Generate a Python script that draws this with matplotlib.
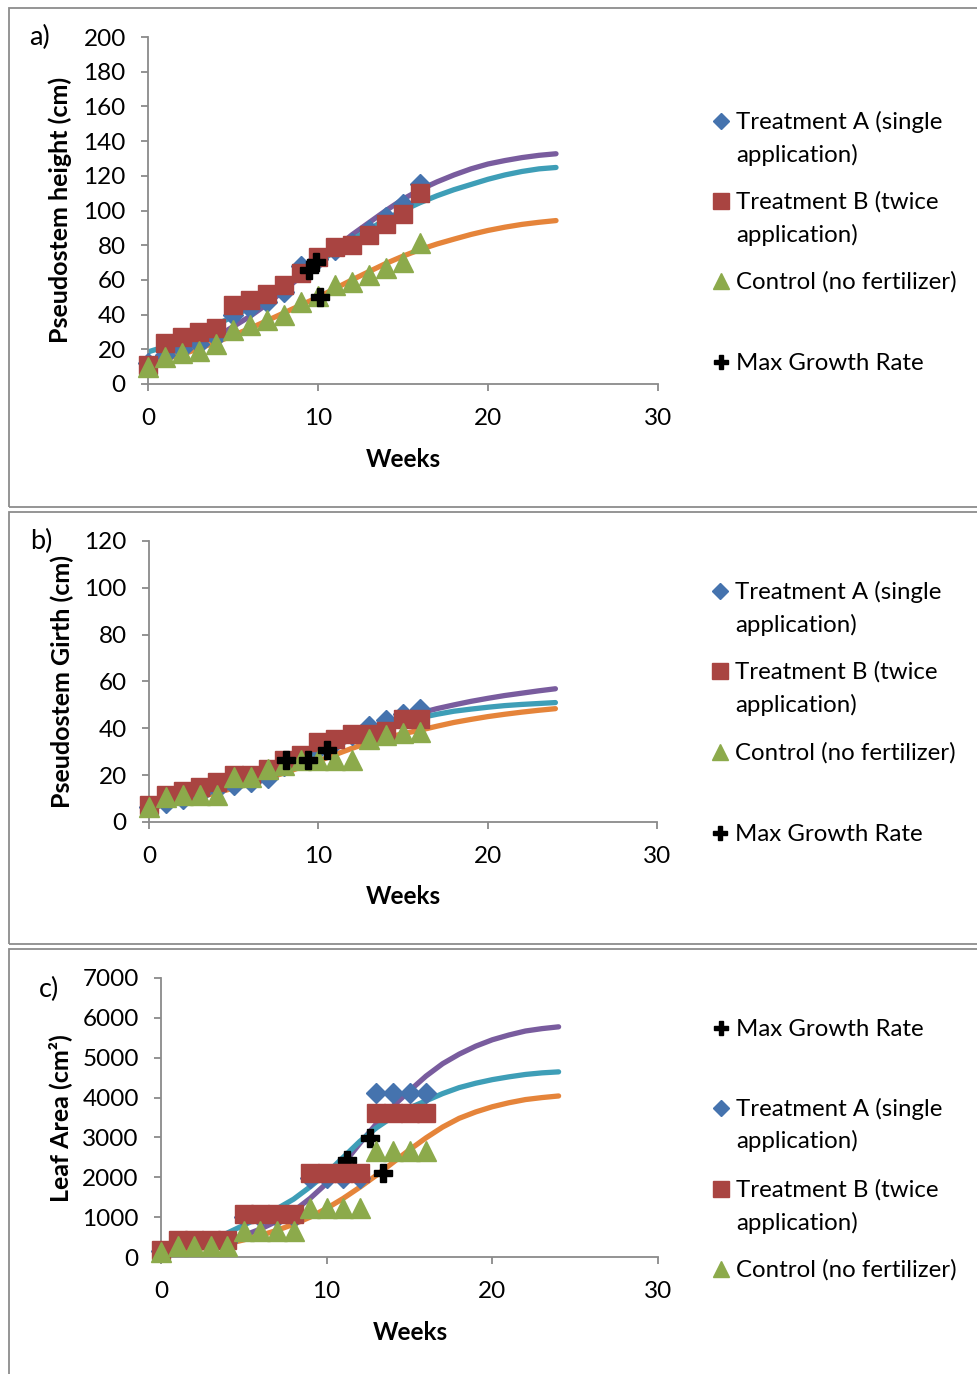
import matplotlib
matplotlib.use("Agg")
import matplotlib.pyplot as plt
from matplotlib.lines import Line2D
from matplotlib.patches import Rectangle

plt.rcParams['font.family'] = ['Lato', 'DejaVu Sans']

W, H = 977, 1374

# ---------------- data ----------------
weeks = [0, 1, 2, 3, 4, 5, 6, 7, 8, 9, 10, 11, 12, 13, 14, 15, 16]
fit_weeks = [0, 1, 2, 3, 4, 5, 6, 7, 8, 9, 10, 11, 12, 13, 14, 15, 16,
             17, 18, 19, 20, 21, 22, 23, 24]

# a) pseudostem height (cm)
a_treat_a = [12, 17, 20, 23, 27, 40, 44, 47, 53, 68, 72, 77, 81, 89, 96, 104, 115]
a_treat_b = [11, 23.5, 27, 30, 32.5, 45.6, 48.5, 52, 57, 64, 73, 79, 80, 86, 92, 98, 110]
a_control = [10, 15.4, 17.7, 19, 23, 31, 34, 37, 40, 47.5, 51, 57, 59, 63, 67, 70.6, 81]
a_fit_a = [13, 15, 18, 22, 27, 33, 39, 46, 54, 62, 70, 78, 86, 93, 100, 106.5, 112,
           116.5, 120.5, 124, 126.8, 128.8, 130.5, 131.8, 132.7]
a_fit_b = [18.5, 21.5, 25, 29.5, 34, 39, 44, 50.5, 57, 63.5, 70, 76.5, 83, 89, 95, 100,
           104.5, 108.5, 112, 115, 118, 120.5, 122.5, 124, 124.8]
a_fit_c = [12, 14.5, 17, 20.5, 24, 28, 32, 36.5, 41, 45.5, 50, 55, 60, 64.8, 69.5, 73.7,
           77.5, 80.7, 83.5, 86.2, 88.5, 90.4, 92, 93.2, 94.2]
a_max_x = [9.47, 9.9, 10.1]
a_max_y = [65.5, 70.5, 50]

# b) pseudostem girth (cm)
b_treat_a = [6.5, 8, 10, 12, 14, 16, 17, 19, 24, 27, 31, 34, 37, 41, 43.5, 46, 48.4]
b_treat_b = [7.1, 11.4, 13.1, 15, 17, 20, 20, 22.8, 26.3, 28.5, 34.2, 35.3, 37.4, 37.7, 39, 44, 44]
b_control = [6.4, 10.7, 11.4, 11.4, 11.4, 19.2, 19.2, 22.8, 24.5, 26.3, 26.6, 26.3, 26.6, 35.6, 37, 38, 38.4]
b_fit_a = [6, 7.7, 9.5, 11.5, 13.5, 15.7, 18, 20.7, 23.5, 26.5, 29.5, 32.5, 35.5, 38.3, 41,
           44, 46.5, 48.4, 50, 51.5, 52.8, 54, 55, 56, 56.9]
b_fit_b = [7, 9, 11, 13, 15, 17.2, 19.5, 22.2, 25, 27.5, 30, 32.8, 35.5, 38, 40.5, 42.7,
           44.5, 46, 47.3, 48.2, 49, 49.7, 50.2, 50.6, 51]
b_fit_c = [6, 7.5, 9, 10.7, 12.5, 14.5, 16.5, 18.7, 21, 23.5, 26, 28.8, 31.5, 33.9, 36,
           37.7, 39.2, 40.9, 42.5, 43.8, 45, 46, 46.9, 47.7, 48.4]
b_max_x = [8.12, 9.4, 10.5]
b_max_y = [26.6, 26.6, 30.8]

# c) leaf area (cm2)
c_treat_a = [150, 380, 380, 380, 380, 1000, 1000, 1000, 1000, 1970, 1970, 1970, 1970, 4110, 4110, 4110, 4110]
c_treat_b = [167, 418, 418, 418, 418, 1078, 1078, 1078, 1078, 2100, 2100, 2100, 2100, 3605, 3605, 3605, 3605]
c_control = [130, 270, 270, 270, 270, 640, 640, 640, 640, 1240, 1240, 1240, 1240, 2670, 2670, 2670, 2670]
c_fit_a = [150, 200, 260, 330, 420, 540, 700, 900, 1150, 1470, 1850, 2330, 2850, 3340, 3780,
           4170, 4540, 4850, 5090, 5290, 5450, 5570, 5670, 5730, 5775]
c_fit_b = [150, 200, 280, 420, 600, 800, 1000, 1210, 1450, 1760, 2100, 2500, 2900, 3240, 3520,
           3740, 3920, 4100, 4250, 4360, 4450, 4520, 4580, 4620, 4645]
c_fit_c = [120, 160, 200, 260, 330, 430, 540, 670, 820, 1000, 1220, 1470, 1750, 2050, 2370,
           2690, 2990, 3260, 3480, 3640, 3770, 3870, 3950, 4000, 4040]
c_max_x = [11.21, 12.61, 13.42]
c_max_y = [2433, 2977, 2099]

x_ticks = [0, 10, 20, 30]
lab_a = "Treatment A (single"
lab_a2 = "application)"
lab_b = "Treatment B (twice"
lab_b2 = "application)"
lab_c = "Control (no fertilizer)"
lab_m = "Max Growth Rate"

# ---------------- style ----------------
COL_A = '#4573AE'
COL_B = '#A94441'
COL_C = '#8CAA4B'
FIT_A = '#795C9E'
FIT_B = '#3E9EB7'
FIT_C = '#E5843A'
AX_COL = '#8A8A8A'

TICK_FS = 17.5
LEG_FS = 17.3
LAB_FS = 18
WK_FS = 17.5

fig = plt.figure(figsize=(W / 100, H / 100), dpi=100)


def fx(px):
    return px / W


def fy(py):
    return 1 - py / H


# panel borders
for top, bottom in [(8, 507), (512, 944), (949, 1380)]:
    fig.add_artist(Rectangle((fx(8.5), fy(bottom)), fx(1000), (bottom - top) / H,
                             transform=fig.transFigure, fill=False,
                             edgecolor='#8C8C8C', linewidth=1.3))


def panel(l, r, t, b, ymax, ystep, A, B, C, fA, fB, fC, mx, my, cross_top):
    ax = fig.add_axes([fx(l), fy(b), fx(r) - fx(l), (b - t) / H])
    ax.plot(fit_weeks, fA, color=FIT_A, lw=3.8, solid_capstyle='round', zorder=2)
    ax.plot(fit_weeks, fB, color=FIT_B, lw=3.8, solid_capstyle='round', zorder=2)
    ax.plot(fit_weeks, fC, color=FIT_C, lw=3.8, solid_capstyle='round', zorder=2)
    ax.plot(weeks, A, ls='none', marker='D', ms=10, color=COL_A, mec=COL_A,
            clip_on=False, zorder=3)
    ax.plot(weeks, B, ls='none', marker='s', ms=13.5, color=COL_B, mec=COL_B,
            clip_on=False, zorder=4)
    ax.plot(weeks, C, ls='none', marker='^', ms=14, color=COL_C, mec=COL_C,
            clip_on=False, zorder=5)
    ax.plot(mx, my, ls='none', marker='P', ms=12.5, color='black', mec='black',
            clip_on=False, zorder=6 if cross_top else 3.5)
    ax.set_xlim(0, 30)
    ax.set_ylim(0, ymax)
    ax.set_xticks(x_ticks)
    ax.set_yticks(list(range(0, ymax + 1, ystep)))
    for s in ['top', 'right']:
        ax.spines[s].set_visible(False)
    for s in ['left', 'bottom']:
        ax.spines[s].set_color(AX_COL)
        ax.spines[s].set_linewidth(1.3)
    ax.tick_params(axis='both', direction='out', length=5, width=1.3,
                   color=AX_COL, labelsize=TICK_FS, labelcolor='black')
    ax.tick_params(axis='y', pad=11)
    ax.tick_params(axis='x', pad=12)
    ax.patch.set_alpha(0)
    return ax


panel(148, 658, 37, 384, 200, 20, a_treat_a, a_treat_b, a_control,
      a_fit_a, a_fit_b, a_fit_c, a_max_x, a_max_y, True)
panel(149, 657, 541, 822, 120, 20, b_treat_a, b_treat_b, b_control,
      b_fit_a, b_fit_b, b_fit_c, b_max_x, b_max_y, True)
panel(161, 658, 978, 1257, 7000, 1000, c_treat_a, c_treat_b, c_control,
      c_fit_a, c_fit_b, c_fit_c, c_max_x, c_max_y, False)

# panel letters
fig.text(fx(39), fy(37), "a)", fontsize=19.5, ha='center', va='center')
fig.text(fx(41), fy(541), "b)", fontsize=19.5, ha='center', va='center')
fig.text(fx(49), fy(989), "c)", fontsize=19.5, ha='center', va='center')

# axis labels
fig.text(fx(60), fy(210), "Pseudostem height (cm)", rotation=90, fontsize=LAB_FS,
         fontweight='bold', ha='center', va='center')
fig.text(fx(62), fy(682), "Pseudostem Girth (cm)", rotation=90, fontsize=LAB_FS,
         fontweight='bold', ha='center', va='center')
fig.text(fx(60), fy(1118), "Leaf Area (cm\u00b2)", rotation=90, fontsize=LAB_FS,
         fontweight='bold', ha='center', va='center')
fig.text(fx(403), fy(459), "Weeks", fontsize=WK_FS, fontweight='bold', ha='center', va='center')
fig.text(fx(403), fy(896), "Weeks", fontsize=WK_FS, fontweight='bold', ha='center', va='center')
fig.text(fx(410), fy(1332), "Weeks", fontsize=WK_FS, fontweight='bold', ha='center', va='center')

# legends
MK = {
    'A': dict(marker='D', ms=8.5, color=COL_A),
    'B': dict(marker='s', ms=11, color=COL_B),
    'C': dict(marker='^', ms=12, color=COL_C),
    'M': dict(marker='P', ms=10.5, color='black'),
}


def legend(mx, tx, entries):
    for key, cy, lines in entries:
        fig.add_artist(Line2D([fx(mx)], [fy(cy)], transform=fig.transFigure,
                              ls='none', mec=MK[key]['color'], **MK[key]))
        for i, t in enumerate(lines):
            fig.text(fx(tx), fy(cy + 8 + 32.5 * i), t, fontsize=LEG_FS,
                     ha='left', va='baseline')


legend(721, 736, [('A', 121, [lab_a, lab_a2]), ('B', 201, [lab_b, lab_b2]),
                  ('C', 281, [lab_c]), ('M', 362, [lab_m])])
legend(720, 735, [('A', 591, [lab_a, lab_a2]), ('B', 671, [lab_b, lab_b2]),
                  ('C', 752, [lab_c]), ('M', 833, [lab_m])])
legend(721, 736, [('M', 1028, [lab_m]), ('A', 1108, [lab_a, lab_a2]),
                  ('B', 1189, [lab_b, lab_b2]), ('C', 1269, [lab_c])])

fig.savefig("out.png", dpi=100)
